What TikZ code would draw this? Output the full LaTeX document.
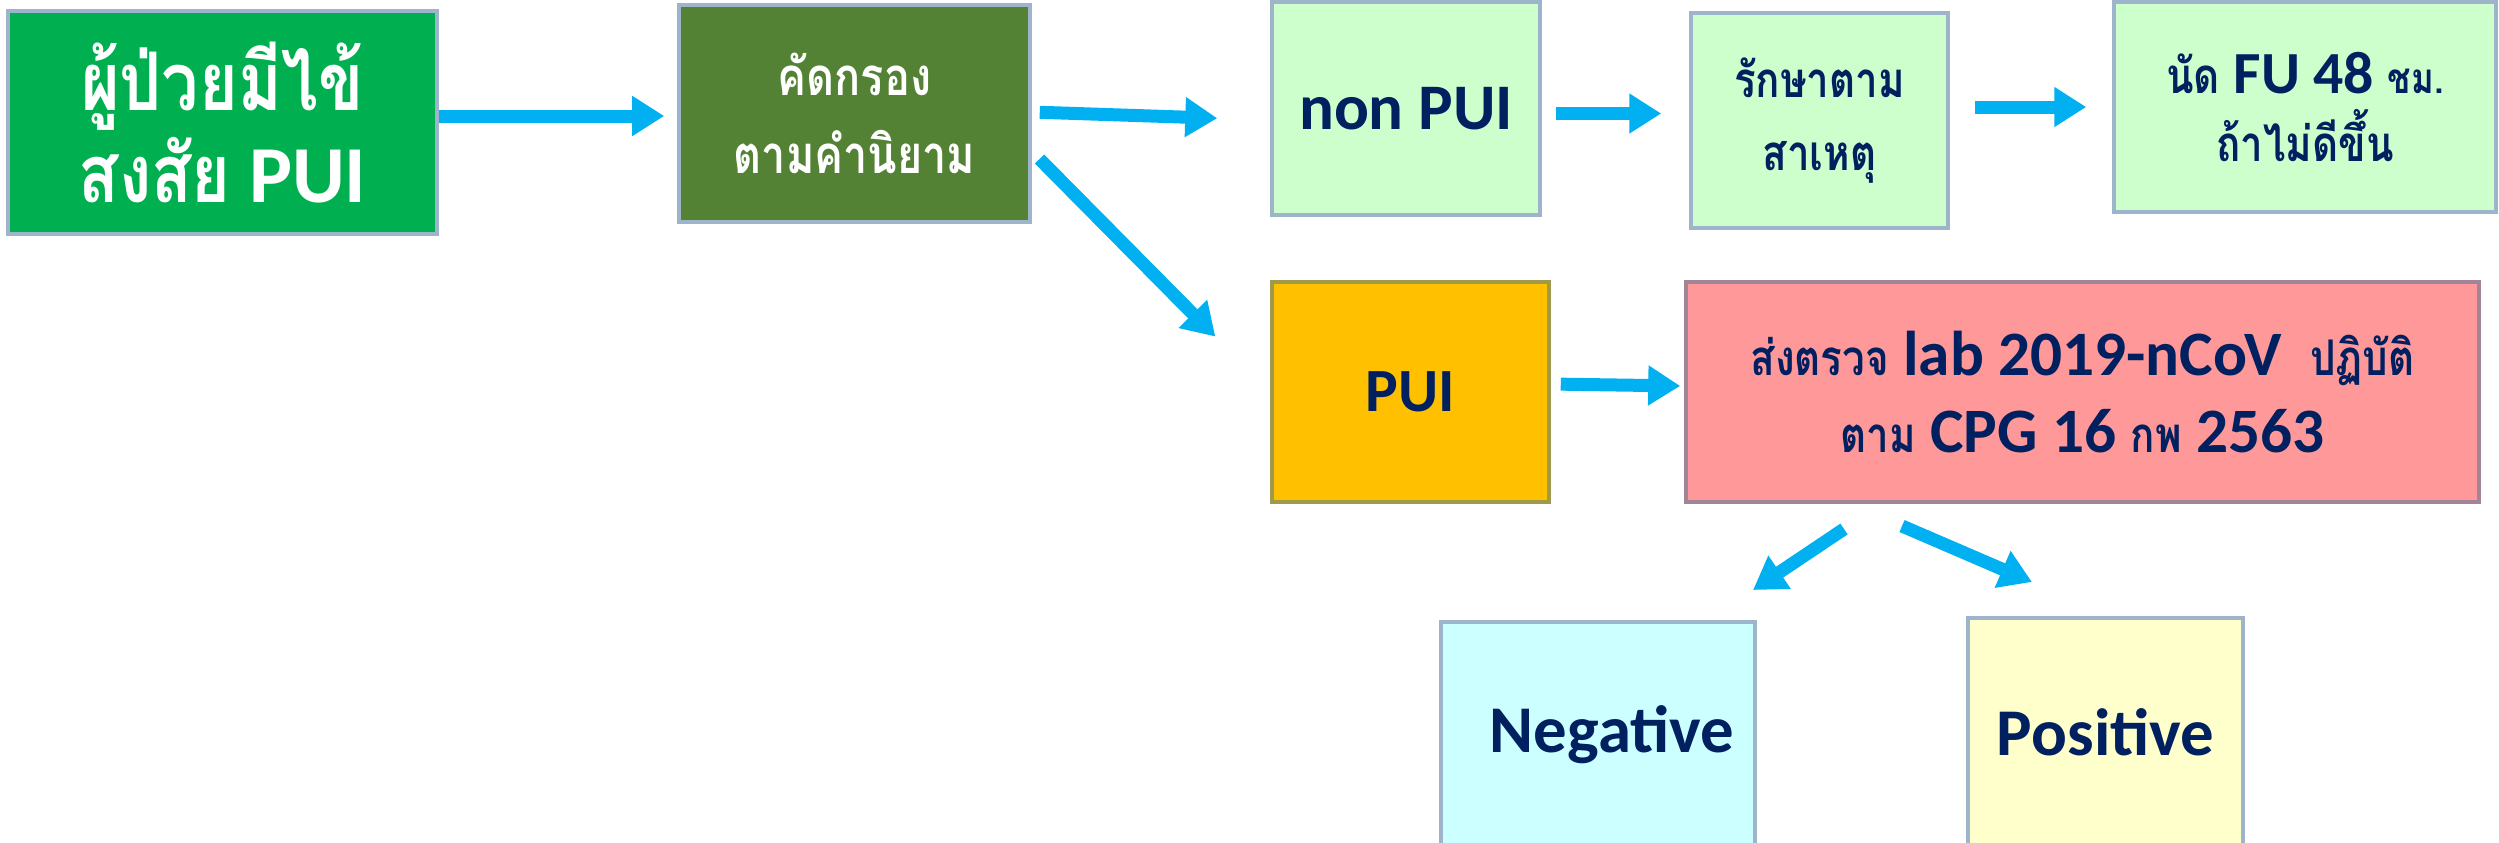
\documentclass[tikz,border=0pt]{standalone}
\usepackage{fontspec}
\setmainfont{Carlito}
\newfontfamily\thaifont[Script=Thai,FakeStretch=0.82]{Loma}
\usetikzlibrary{arrows.meta}
\definecolor{sickgreen}{HTML}{00B050}
\definecolor{screenolive}{HTML}{548235}
\definecolor{palegreen}{HTML}{CCFFCC}
\definecolor{puiamber}{HTML}{FFC000}
\definecolor{labpink}{HTML}{FF9999}
\definecolor{negcyan}{HTML}{CCFFFF}
\definecolor{posyellow}{HTML}{FFFFCC}
\definecolor{textnavy}{HTML}{002060}
\definecolor{flowblue}{HTML}{00B0F0}
\definecolor{edgeblue}{HTML}{9DB4CA}
\definecolor{edgeolive}{HTML}{9E9A4A}
\definecolor{edgemauve}{HTML}{A08498}

\begin{document}
\begin{tikzpicture}[
    box/.style={draw=edgeblue,line width=1pt,align=center,inner sep=0pt,text=textnavy},
    flow/.style={flowblue,line width=0.13cm,-{Triangle[width=0.38cm,length=0.32cm]}}]
	\useasboundingbox (0,0) rectangle (24.99,-8.42);

	\node[box,fill=sickgreen,text=white,minimum width=4.29cm,minimum height=2.23cm,
	  font=\bfseries\fontsize{23}{26}\selectfont] (sick) at (2.225,-1.225)
	  {{\thaifont ผู้ป่วยมีไข้}\\{\thaifont สงสัย} PUI};
	\node[box,fill=screenolive,text=white,minimum width=3.51cm,minimum height=2.17cm,
	  font=\bfseries\thaifont\fontsize{15}{22}\selectfont] (screen) at (8.545,-1.135)
	  {คัดกรอง\\ตามคำนิยาม};

	\node[box,fill=palegreen,minimum width=2.68cm,minimum height=2.13cm,
	  font=\bfseries\fontsize{18.5}{22}\selectfont] (nonpui) at (14.06,-1.085) {non PUI};
	\node[box,fill=palegreen,minimum width=2.57cm,minimum height=2.15cm,
	  font=\bfseries\thaifont\fontsize{14}{21}\selectfont] (treat) at (18.195,-1.205)
	  {รักษาตาม\\สาเหตุ};
	\node[box,fill=palegreen,minimum width=3.82cm,minimum height=2.10cm,
	  font=\bfseries\fontsize{17}{19.5}\selectfont] (fu) at (23.05,-1.07)
	  {{\thaifont\fontsize{14}{19.5}\selectfont นัด} FU 48 {\thaifont\fontsize{12}{19.5}\selectfont ชม.}\\
	   {\thaifont\fontsize{14}{19.5}\selectfont ถ้าไม่ดีขึ้น}};

	\node[box,draw=edgeolive,fill=puiamber,minimum width=2.77cm,minimum height=2.20cm,
	  font=\bfseries\fontsize{17.5}{22}\selectfont] (pui) at (14.105,-3.92) {PUI};
	\node[box,draw=edgemauve,fill=labpink,minimum width=7.93cm,minimum height=2.20cm,
	  font=\bfseries\fontsize{18}{22}\selectfont] (lab) at (20.825,-3.92)
	  {{\thaifont\fontsize{14}{22}\selectfont ส่งตรวจ} lab 2019-nCoV\ \ {\thaifont\fontsize{14}{22}\selectfont ปฏิบัติ}\\
	   {\thaifont\fontsize{14}{22}\selectfont ตาม} CPG 16 {\thaifont\fontsize{14}{22}\selectfont กพ} 2563};

	\node[box,fill=negcyan,minimum width=3.14cm,minimum height=2.26cm,
	  font=\bfseries\fontsize{19}{22}\selectfont] (neg) at (15.98,-7.35) {\hspace*{0.28cm}Negative};
	\node[box,fill=posyellow,minimum width=2.75cm,minimum height=2.28cm,
	  font=\bfseries\fontsize{19}{22}\selectfont] (pos) at (21.055,-7.32) {Positive};

	\draw[flow,shorten >=0.13cm] ([yshift=0.065cm]sick.east) -- ([yshift=0.065cm]sick.east -| screen.west);
	\draw[flow,shorten <=0.08cm,shorten >=0.53cm] ([yshift=0.015cm]screen.east) -- ([yshift=-0.115cm]nonpui.west);
	\draw[flow,shorten <=0.11cm,shorten >=0.78cm] (screen.-12) -- (pui.west);
	\draw[flow,shorten <=0.14cm,shorten >=0.28cm] ([yshift=-0.05cm]nonpui.east) -- ([yshift=-0.05cm]nonpui.east -| treat.west);
	\draw[flow,shorten <=0.25cm,shorten >=0.26cm] (fu.west -| treat.east) -- (fu.west);
	\draw[flow,shorten <=0.10cm,shorten >=0.04cm] ([yshift=0.08cm]pui.east) -- ([yshift=0.06cm]lab.west);

	\coordinate (negfrom) at (18.44,-5.29);
	\coordinate (negto) at (17.53,-5.90);
	\coordinate (posfrom) at (19.02,-5.26);
	\coordinate (posto) at (20.32,-5.82);
	\draw[flow] (negfrom) -- (negto);
	\draw[flow] (posfrom) -- (posto);
\end{tikzpicture}
\end{document}
